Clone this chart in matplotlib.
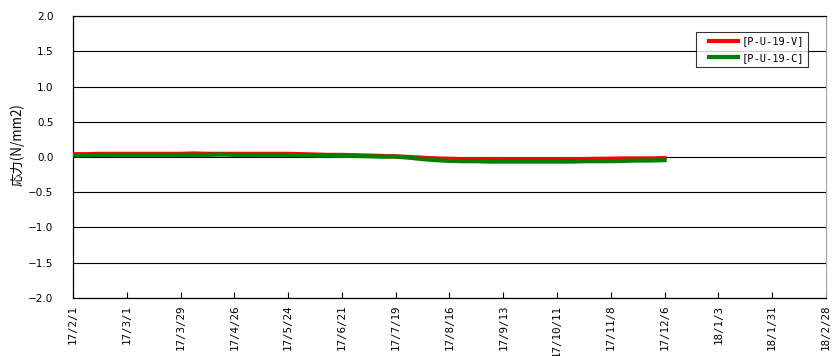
import numpy as np
import pandas as pd
import matplotlib
matplotlib.use("Agg")
import matplotlib.pyplot as plt
from matplotlib.legend_handler import HandlerLine2D

plt.rcParams['font.family'] = ['DejaVu Sans Mono', 'Noto Sans CJK JP']

# ── Data (weekly readings) ───────────────────────────────────────────────────
dates = pd.date_range("2017-02-01", periods=45, freq="7D")

stress_v = [0.04, 0.04, 0.045, 0.045, 0.045, 0.045, 0.045, 0.045, 0.045,
            0.05, 0.045, 0.045, 0.045, 0.045, 0.045, 0.045, 0.045,
            0.04, 0.035, 0.03, 0.03, 0.025, 0.02, 0.015, 0.01,
            0.0, -0.01, -0.02, -0.025, -0.03, -0.03, -0.03, -0.03,
            -0.03, -0.03, -0.03, -0.03, -0.03, -0.03, -0.025, -0.025,
            -0.02, -0.02, -0.02, -0.015]

stress_c = [0.025, 0.025, 0.03, 0.03, 0.03, 0.03, 0.03, 0.03, 0.03,
            0.03, 0.03, 0.035, 0.03, 0.03, 0.03, 0.03, 0.03,
            0.025, 0.02, 0.02, 0.015, 0.015, 0.01, 0.005, 0.005,
            -0.01, -0.03, -0.045, -0.055, -0.06, -0.06, -0.065, -0.065,
            -0.065, -0.065, -0.065, -0.065, -0.065, -0.06, -0.06, -0.06,
            -0.055, -0.05, -0.05, -0.045]

series_names = ["[P-U-19-V]", "[P-U-19-C]"]
tick_dates = pd.date_range("2017-02-01", "2018-02-28", freq="28D")
tick_labels = [f"{d.year % 100}/{d.month}/{d.day}" for d in tick_dates]
y_ticks = [-2.0, -1.5, -1.0, -0.5, 0.0, 0.5, 1.0, 1.5, 2.0]


class ShortLine(HandlerLine2D):
    # legend line indented from the frame, butting up against the label
    def get_xdata(self, legend, xdescent, ydescent, width, height, fontsize):
        x = np.array([-xdescent + 0.85 * fontsize, -xdescent + width])
        return x, x


# ── Figure ───────────────────────────────────────────────────────────────────
fig = plt.figure(figsize=(8.32, 3.56), dpi=100)
ax = fig.add_axes([0.0877, 0.163, 0.905, 0.792])

ax.plot(dates, stress_v, color="#FF0000", lw=3, label=series_names[0], zorder=3)
ax.plot(dates, stress_c, color="#008000", lw=3, label=series_names[1], zorder=4)

ax.set_ylim(-2.0, 2.0)
ax.set_yticks(y_ticks)
ax.set_yticklabels([f"{v:.1f}".replace("-", "\u2212") for v in y_ticks],
                   fontsize=7.5, family="DejaVu Sans")
ax.yaxis.grid(True, color="black", linewidth=0.8)
ax.tick_params(axis="y", length=0, pad=14)

ax.set_xlim(tick_dates[0], tick_dates[-1])
ax.set_xticks(tick_dates)
ax.set_xticklabels(tick_labels, rotation=90, fontsize=7.8, va="top", ha="center")
ax.tick_params(axis="x", direction="in", length=4, pad=5)

fig.text(17 / 832, 1 - 145 / 356, "応力(N/mm2)", rotation=90,
         ha="center", va="center", fontsize=9.6,
         family=['Noto Sans CJK JP', 'DejaVu Sans'])

for s in ["left", "bottom", "top"]:
    ax.spines[s].set_color("black")
    ax.spines[s].set_linewidth(0.9)
ax.spines["right"].set_color("#A0A0A0")

leg = ax.legend(loc="upper right", bbox_to_anchor=(0.976, 0.943), fontsize=7.5,
                frameon=True, fancybox=False, handlelength=3.6,
                borderpad=0.4, labelspacing=0.65, handletextpad=0.3,
                borderaxespad=0, handler_map={plt.Line2D: ShortLine()})
leg.get_frame().set_edgecolor("black")
leg.get_frame().set_linewidth(0.8)
for line in leg.get_lines():
    line.set_linewidth(3)

fig.savefig("out.png", dpi=100, facecolor="white")
